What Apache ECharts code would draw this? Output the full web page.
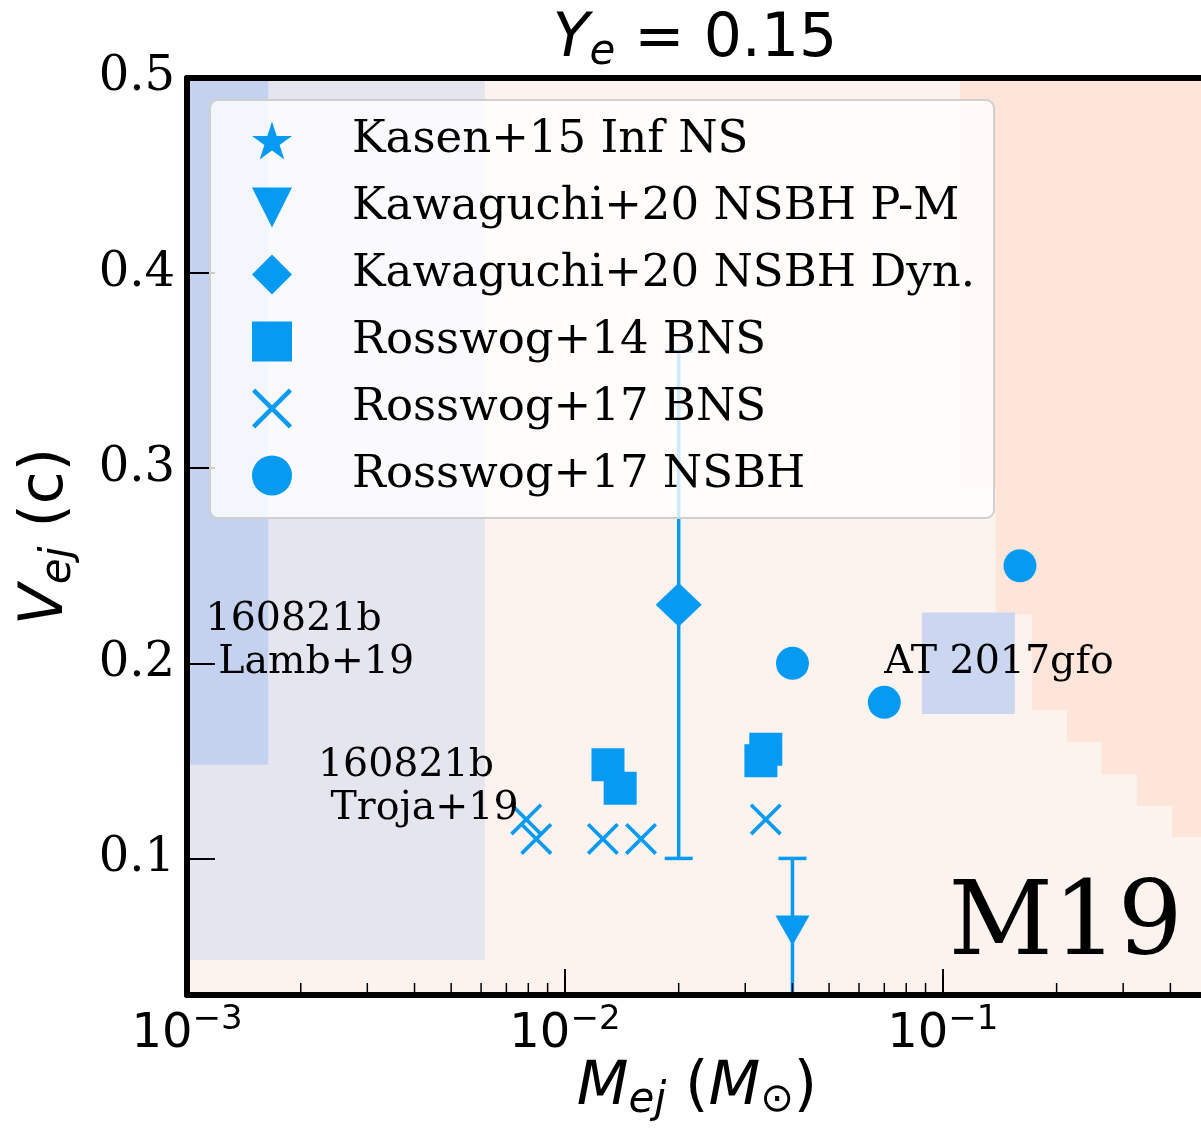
<!DOCTYPE html>
<html>
<head>
<meta charset="utf-8">
<script src="https://cdn.jsdelivr.net/npm/echarts@6/dist/echarts.min.js"></script>
<style>
  html, body { margin: 0; padding: 0; background: #fff; }
  #chart { width: 1201px; height: 1130px; }
</style>
</head>
<body>
<div id="chart"></div>
<script>
// --- data (M_ej in Msun, v_ej in c) ---
const kasenInfNS = [];
const kawaguchiPM = [[0.04, 0.063]];
const kawaguchiDyn = [[0.02, 0.23]];
const rosswog14BNS = [[0.0130, 0.148], [0.0140, 0.136], [0.0340, 0.156], [0.0330, 0.150]];
const rosswog17BNS = [[0.0079, 0.120], [0.0084, 0.110], [0.0126, 0.110], [0.0159, 0.110], [0.0340, 0.120]];
const rosswog17NSBH = [[0.040, 0.200], [0.070, 0.180], [0.160, 0.250]];
// error bars: [x, low, high]
const errorBars = [[0.02, 0.10, 0.36], [0.04, 0.0, 0.10]];

// constraint boxes: [xmin, xmax, ymin, ymax]
const trojaBox = [0.001, 0.00614, 0.048, 0.5];
const lambBox = [0.001, 0.00164, 0.148, 0.5];
const gfoBox = [0.088, 0.155, 0.174, 0.226];
// outline of the shaded upper-right region
const shadedEdge = [
  [0.111, 0.5], [0.111, 0.29], [0.138, 0.29], [0.138, 0.225], [0.172, 0.225],
  [0.172, 0.176], [0.213, 0.176], [0.213, 0.1595], [0.263, 0.1595], [0.263, 0.143],
  [0.326, 0.143], [0.326, 0.127], [0.404, 0.127], [0.404, 0.111], [0.5, 0.111], [0.5, 0.5]
];

const notes = [
  [0.00112, 0.2115, '160821b\n Lamb+19'],
  [0.00222, 0.1365, '160821b\n Troja+19'],
  [0.070, 0.2005, 'AT 2017gfo']
];
const bigNote = [[0.1035, 0.0646, 'M19']];

const yTicks = [0.1, 0.2, 0.3, 0.4, 0.5];
const xMinor = [0.002, 0.003, 0.004, 0.005, 0.006, 0.007, 0.008, 0.009,
  0.02, 0.03, 0.04, 0.05, 0.06, 0.07, 0.08, 0.09, 0.2, 0.3, 0.4];

const names = ['Kasen+15 Inf NS', 'Kawaguchi+20 NSBH P-M', 'Kawaguchi+20 NSBH Dyn.',
  'Rosswog+14 BNS', 'Rosswog+17 BNS', 'Rosswog+17 NSBH'];

const BLUE = '#069af3';
const SERIF = 'DejaVu Serif';
const SANS = 'DejaVu Sans';
const X_MIN = 0.001, X_MAX = 0.5, Y_MIN = 0.03, Y_MAX = 0.5;

const STAR = 'path://M50,0L61.2,34.5L97.6,34.5L68.2,55.9L79.4,90.5L50,69.1L20.6,90.5L31.8,55.9L2.4,34.5L38.8,34.5Z';
const TRI_DOWN = 'path://M0,0L100,0L50,100Z';
const CROSS = 'path://M0,8L8,0L100,92L92,100ZM92,0L100,8L8,100L0,92Z';

const mathRich = {
  i: { fontFamily: SANS, fontStyle: 'italic', fontSize: 60, color: '#000', lineHeight: 70 },
  s: { fontFamily: SANS, fontStyle: 'italic', fontSize: 42, color: '#000', lineHeight: 50, padding: [26, 0, 0, 0] },
  o: { fontFamily: SANS, fontSize: 40, color: '#000', lineHeight: 50, padding: [26, 0, 0, 0] },
  n: { fontFamily: SANS, fontSize: 60, color: '#000', lineHeight: 70 }
};

function boxSeries(box, color) {
  return {
    type: 'custom', silent: true, clip: true, z: 1,
    data: [box],
    renderItem: function (params, api) {
      const a = api.coord([api.value(0), api.value(3)]);
      const b = api.coord([api.value(1), api.value(2)]);
      return { type: 'rect', shape: { x: a[0], y: a[1], width: b[0] - a[0], height: b[1] - a[1] }, style: { fill: color } };
    }
  };
}

function scatter(name, data, symbol, size, extra) {
  return Object.assign({
    type: 'scatter', name: name, data: data, symbol: symbol, symbolSize: size, z: 3,
    itemStyle: { color: BLUE, opacity: 1 }
  }, extra || {});
}

const chart = echarts.init(document.getElementById('chart'));
chart.setOption({
  backgroundColor: '#fff',
  animation: false,
  grid: { left: 187, top: 78, right: -6, bottom: 135, show: true, backgroundColor: '#fdf3ee', borderWidth: 0, outerBoundsMode: 'none' },
  graphic: [{
    type: 'text', x: 695, y: 40, z: 10,
    style: { text: '{i|Y}{s|e}{n| = 0.15}', align: 'center', verticalAlign: 'middle', rich: mathRich }
  }],
  legend: {
    data: names,
    orient: 'vertical', left: 210, top: 100, z: 10, selectedMode: false,
    itemWidth: 40, itemHeight: 40, itemGap: 22,
    padding: [18, 19, 20, 42],
    backgroundColor: 'rgba(255,255,255,0.8)', borderColor: '#cfcfcf', borderWidth: 2, borderRadius: 8,
    textStyle: { fontFamily: SERIF, fontSize: 45, color: '#000', lineHeight: 40, padding: [0, 0, 0, 55] }
  },
  xAxis: [{
    type: 'log', logBase: 10, min: X_MIN, max: X_MAX, splitNumber: 3, z: 5, position: 'bottom',
    axisLine: { show: true, onZero: false, lineStyle: { color: '#000', width: 6 } },
    axisTick: { show: true, inside: true, length: 26, lineStyle: { color: '#000', width: 2 } },
    splitLine: { show: false },
    axisLabel: {
      margin: 12, showMaxLabel: false,
      formatter: function (v) {
        const e = Math.log10(v);
        if (Math.abs(e - Math.round(e)) > 1e-6) return '';
        return '{b|10}{e|\u2212' + Math.abs(Math.round(e)) + '}';
      },
      rich: {
        b: { fontFamily: SANS, fontSize: 48, color: '#000', lineHeight: 56 },
        e: { fontFamily: SANS, fontSize: 34, color: '#000', lineHeight: 40, padding: [0, 0, 30, 0] }
      }
    },
    name: '{i|M}{s|ej}{n| (}{i|M}{o|\u2299}{n|)}',
    nameLocation: 'middle', nameGap: 58, nameMoveOverlap: false,
    nameTextStyle: { rich: mathRich }
  }, {
    // top frame line
    type: 'log', logBase: 10, min: X_MIN, max: X_MAX, z: 5, position: 'top',
    axisLine: { show: true, onZero: false, lineStyle: { color: '#000', width: 6 } },
    axisTick: { show: false }, axisLabel: { show: false }, splitLine: { show: false }
  }],
  yAxis: {
    type: 'value', min: Y_MIN, max: Y_MAX, z: 5,
    axisLine: { show: true, onZero: false, lineStyle: { color: '#000', width: 6 } },
    axisTick: { show: true, inside: true, length: 28, customValues: yTicks, lineStyle: { color: '#000', width: 2 } },
    splitLine: { show: false },
    axisLabel: {
      customValues: yTicks, margin: 12,
      formatter: function (v) { return v.toFixed(1); },
      fontFamily: SERIF, fontSize: 48, color: '#000'
    },
    name: '{i|V}{s|ej}{n| (c)}',
    nameLocation: 'middle', nameRotate: 90, nameGap: 106,
    nameTextStyle: { rich: mathRich }
  },
  series: [
    boxSeries(trojaBox, '#e5e5ef'),
    boxSeries(lambBox, '#c4d2f0'),
    {
      type: 'custom', silent: true, clip: true, z: 1,
      data: shadedEdge,
      renderItem: function (params, api) {
        if (params.dataIndex !== 0) return null;
        const pts = shadedEdge.map(function (p) { return api.coord(p); });
        return { type: 'polygon', shape: { points: pts }, style: { fill: '#fde5da' } };
      }
    },
    boxSeries(gfoBox, '#cbd6f0'),
    {
      type: 'custom', silent: true, clip: true, z: 2,
      data: errorBars,
      renderItem: function (params, api) {
        const x = api.value(0);
        const top = api.coord([x, api.value(2)]);
        const bot = api.coord([x, api.value(1)]);
        const st = { stroke: BLUE, lineWidth: 3.5 };
        const h = 14;
        return {
          type: 'group', children: [
            { type: 'line', shape: { x1: top[0], y1: top[1], x2: bot[0], y2: bot[1] }, style: st },
            { type: 'line', shape: { x1: top[0] - h, y1: top[1], x2: top[0] + h, y2: top[1] }, style: st },
            { type: 'line', shape: { x1: bot[0] - h, y1: bot[1], x2: bot[0] + h, y2: bot[1] }, style: st }
          ]
        };
      }
    },
    scatter(names[0], kasenInfNS, STAR, 36, { symbolKeepAspect: true }),
    scatter(names[1], kawaguchiPM, TRI_DOWN, [34, 30]),
    scatter(names[2], kawaguchiDyn, 'diamond', [46, 44]),
    scatter(names[3], rosswog14BNS, 'rect', 33),
    scatter(names[4], rosswog17BNS, CROSS, 32),
    scatter(names[5], rosswog17NSBH, 'circle', 33),
    {
      type: 'custom', silent: true, z: 4,
      data: notes.map(function (n) { return [n[0], n[1]]; }),
      renderItem: function (params, api) {
        const p = api.coord([api.value(0), api.value(1)]);
        return {
          type: 'text', x: p[0], y: p[1],
          style: { text: notes[params.dataIndex][2], fontFamily: SERIF, fontSize: 39.5, fill: '#000', align: 'left', verticalAlign: 'middle', lineHeight: 43 }
        };
      }
    },
    {
      type: 'custom', silent: true, z: 4,
      data: bigNote.map(function (n) { return [n[0], n[1]]; }),
      renderItem: function (params, api) {
        const p = api.coord([api.value(0), api.value(1)]);
        return {
          type: 'text', x: p[0], y: p[1],
          style: { text: bigNote[params.dataIndex][2], fontFamily: SERIF, fontSize: 102, fill: '#000', align: 'left', verticalAlign: 'middle' }
        };
      }
    },
    {
      // minor ticks of the log axis
      type: 'custom', silent: true, z: 5,
      data: xMinor.map(function (v) { return [v]; }),
      encode: { x: 0 },
      renderItem: function (params, api) {
        const p = api.coord([api.value(0), Y_MIN]);
        return { type: 'line', shape: { x1: p[0], y1: p[1], x2: p[0], y2: p[1] - 12 }, style: { stroke: '#000', lineWidth: 1.5 } };
      }
    }
  ]
});
</script>
</body>
</html>
